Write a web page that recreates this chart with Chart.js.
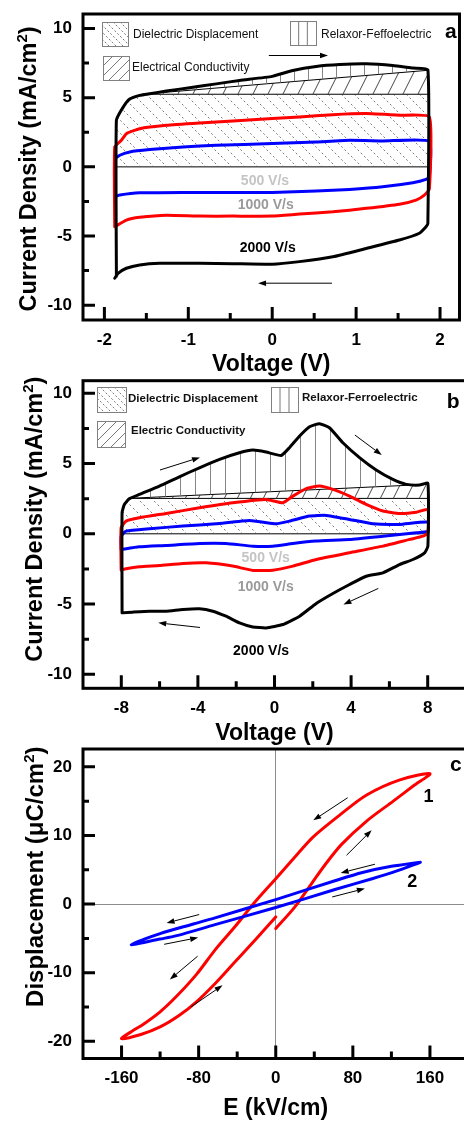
<!DOCTYPE html>
<html>
<head>
<meta charset="utf-8">
<script src="https://cdn.jsdelivr.net/npm/chart.js@4.4.1/dist/chart.umd.min.js"></script>
<style>
  html, body { margin: 0; padding: 0; background: #fff; overflow: hidden; width: 464px; height: 1121px; }
  canvas { position: absolute; left: 0; }
</style>
</head>
<body>
<canvas id="chartA" width="464" height="378" style="top:0px"></canvas>
<canvas id="chartB" width="472" height="372" style="top:375px"></canvas>
<canvas id="chartC" width="472" height="382" style="top:740px"></canvas>
<script>
const FONT = "'Liberation Sans', Arial, Helvetica, sans-serif";
Chart.defaults.font.family = FONT;
Chart.defaults.color = '#000';

// ---------- panel a : current density vs voltage, +/-1.85 V ----------
const aXTicks = [-2, -1, 0, 1, 2];
const aXMinor = [-1.5, -0.5, 0.5, 1.5];
const aYTicks = [-10, -5, 0, 5, 10];
const aYMinor = [-7.5, -2.5, 2.5, 7.5];
const aRates = ['500 V/s', '1000 V/s', '2000 V/s'];

const a2000Up = [[-1.857, -7.9], [-1.857, 3.37], [-1.778, 4.3], [-1.698, 4.9], [-1.579, 5.17], [-1.46, 5.29], [-1.262, 5.48], [-0.984, 5.72], [-0.667, 6.0], [-0.389, 6.25], [0, 6.54], [0.246, 6.97], [0.524, 7.26], [0.802, 7.4], [1.119, 7.45], [1.437, 7.33], [1.675, 7.14], [1.855, 7.02]];
const a2000Down = [[1.855, -4.1], [1.833, -4.33], [1.754, -4.8], [1.516, -5.29], [1.119, -5.9], [0.722, -6.5], [0.325, -6.85], [0, -7.04], [-0.468, -7.0], [-0.865, -6.97], [-1.341, -6.97], [-1.579, -7.09], [-1.738, -7.33], [-1.837, -7.7], [-1.877, -8.05]];
const a1000Up = [[-1.877, -4.33], [-1.877, 1.44], [-1.798, 1.92], [-1.738, 2.4], [-1.579, 2.76], [-1.262, 3.0], [-0.865, 3.17], [-0.468, 3.32], [0, 3.49], [0.325, 3.6], [0.722, 3.77], [1.119, 3.85], [1.516, 3.73], [1.873, 3.6]];
const a1000Down = [[1.873, -1.6], [1.813, -2.04], [1.714, -2.4], [1.516, -2.7], [1.119, -3.0], [0.722, -3.25], [0.325, -3.41], [0, -3.56], [-0.468, -3.56], [-0.865, -3.56], [-1.262, -3.49], [-1.579, -3.65], [-1.738, -3.85], [-1.877, -4.33]];
const a500Up = [[-1.877, -2.16], [-1.877, 0.53], [-1.817, 0.84], [-1.698, 1.08], [-1.46, 1.25], [-1.063, 1.44], [-0.667, 1.56], [0, 1.68], [0.524, 1.8], [0.921, 1.92], [1.317, 1.87], [1.873, 1.85]];
const a500Down = [[1.873, -0.72], [1.833, -0.91], [1.675, -1.15], [1.317, -1.44], [0.921, -1.63], [0.524, -1.75], [0, -1.85], [-0.468, -1.85], [-1.063, -1.85], [-1.579, -1.88], [-1.817, -2.04], [-1.877, -2.16]];
// hatched areas: top of the dielectric box and the conductivity line
const aDielTop = [[-1.857, 3.37], [-1.778, 4.3], [-1.698, 4.9], [-1.55, 5.25], [1.855, 5.25]];
const aCondLine = [[-1.55, 5.25], [1.855, 6.98]];
const aArrows = [[-0.04, 8.05, 0.665, 8.05], [0.713, -8.41, -0.169, -8.41]];

// ---------- panel b : +/-8 V ----------
const bXTicks = [-8, -4, 0, 4, 8];
const bXMinor = [-6, -2, 2, 6];
const bYTicks = [-10, -5, 0, 5, 10];
const bYMinor = [-7.5, -2.5, 2.5, 7.5];

const b2000Up = [[-7.96, -5.63], [-7.96, 1.5], [-7.84, 2.09], [-7.58, 2.49], [-7.06, 2.8], [-6.01, 3.4], [-4.97, 4.06], [-3.92, 4.7], [-2.87, 5.3], [-1.83, 5.77], [-1.13, 5.96], [-0.44, 5.82], [0.35, 5.58], [0.78, 6.13], [1.31, 6.96], [1.83, 7.62], [2.35, 7.84], [2.87, 7.55], [3.57, 6.48], [4.44, 5.42], [5.31, 4.54], [6.18, 3.87], [6.88, 3.52], [7.58, 3.47], [8.01, 3.59]];
const b2000Down = [[8.01, -0.88], [7.84, -1.35], [7.23, -1.83], [6.53, -2.19], [5.66, -2.78], [4.79, -3.02], [3.92, -3.61], [3.05, -4.25], [2.18, -4.96], [1.31, -5.87], [0.44, -6.46], [-0.44, -6.7], [-1.13, -6.63], [-1.83, -6.34], [-2.53, -5.87], [-3.22, -5.51], [-3.92, -5.34], [-4.79, -5.39], [-5.66, -5.51], [-6.53, -5.51], [-7.42, -5.58], [-7.96, -5.63]];
const b1000Up = [[-8.01, -2.54], [-8.01, 0.43], [-7.75, 0.9], [-7.06, 1.14], [-5.66, 1.45], [-3.92, 1.85], [-2.18, 2.21], [-0.44, 2.45], [0.44, 2.21], [0.96, 2.68], [1.66, 3.21], [2.35, 3.4], [3.05, 3.16], [3.92, 2.68], [4.79, 2.09], [5.66, 1.62], [6.53, 1.45], [7.41, 1.54], [8.01, 1.73]];
const b1000Down = [[8.01, 0.07], [7.76, -0.17], [7.06, -0.4], [5.66, -0.88], [3.92, -1.35], [2.18, -1.83], [0.96, -2.3], [-0.09, -2.59], [-1.13, -2.61], [-2.18, -2.3], [-3.57, -2.07], [-4.79, -2.11], [-6.01, -2.26], [-7.06, -2.35], [-7.75, -2.49], [-8.01, -2.59]];
const b500Up = [[-8.01, -1.12], [-8.01, -0.17], [-7.75, 0.19], [-6.53, 0.36], [-4.79, 0.55], [-3.05, 0.71], [-1.31, 0.95], [0.09, 0.71], [0.78, 0.9], [1.83, 1.26], [2.7, 1.31], [3.92, 1.02], [5.14, 0.71], [6.53, 0.67], [8.01, 0.83]];
const b500Down = [[8.01, 0.19], [7.41, 0.07], [5.66, -0.17], [3.92, -0.4], [2.18, -0.52], [0.96, -0.69], [-0.09, -0.88], [-1.13, -0.88], [-2.53, -0.69], [-3.92, -0.69], [-5.66, -0.83], [-7.06, -0.93], [-8.01, -1.12]];
const bDielTop = [[-7.96, 1.5], [-7.84, 2.09], [-7.65, 2.52], [8.01, 2.52]];
const bCondLine = [[-7.65, 2.52], [8.01, 3.52]];
const bArrows = [[-5.98, 4.54, -3.89, 5.44], [4.2, 7.03, 5.6, 5.61], [5.42, -3.89, 3.6, -5.03], [-3.89, -6.67, -6.07, -6.34]];

// ---------- panel c : D-E loops ----------
const cXTicks = [-160, -80, 0, 80, 160];
const cXMinor = [-120, -40, 40, 120];
const cYTicks = [-20, -10, 0, 10, 20];
const cYMinor = [-15, -5, 5, 15];

const c1Start = [[0, -3.57], [19.9, -0.41], [37.2, 3.0], [51, 5.7], [68.3, 8.7], [94.3, 12.1], [121.9, 15.0], [142.6, 17.2], [160, 19.0]];
const c1Down = [[128.8, 18.1], [94.3, 15.9], [66.6, 13.0], [38.9, 9.8], [23.3, 7.4], [0, 3.7], [-21.6, 0.3], [-42.4, -3.3], [-63.1, -6.7], [-82, -10.2], [-102.7, -13.4], [-120, -15.7], [-137.3, -17.5], [-150, -18.6], [-160, -19.6]];
const c1Up = [[-140, -19.0], [-120, -17.9], [-100, -16.2], [-82, -14.2], [-63.1, -11.6], [-42.4, -8.43], [-21.6, -5.27], [0, -1.87]];
const c2Down = [[150, 6.1], [120, 5.5], [90, 4.6], [61.4, 3.4], [0, 0.66], [-63, -2.0], [-85.5, -2.9], [-120, -4.3], [-150, -5.9]];
const c2Up = [[-120, -5.1], [-102.7, -4.6], [-63, -3.0], [0, -0.5], [61.4, 2.12], [100, 3.7], [125, 4.8], [150, 6.1]];
const cArrows = [[74.6, 15.5, 38.9, 12.2], [73.5, 7.12, 99.5, 10.77], [102.9, 5.81, 67.3, 4.54], [58.6, 1.04, 92.5, 2.27],
                 [-79.4, -1.52, -113.3, -2.75], [-115.8, -5.86, -80.5, -4.88], [-81.1, -7.6, -109.9, -11.0], [-88.1, -15.0, -55.2, -11.83]];

// ---------- helpers ----------
const pts = arr => arr.map(([x, y]) => ({ x, y }));

function makePattern(kind, s, color) {
  const c = document.createElement('canvas');
  c.width = s;
  c.height = kind === 'slash' ? 2 * s : kind === 'vert' ? 4 : s;
  const g = c.getContext('2d');
  g.strokeStyle = color;
  g.lineWidth = kind === 'dash' ? 0.8 : 0.9;
  g.beginPath();
  if (kind === 'dash') {
    const d = s * Math.SQRT2 / 8;
    g.setLineDash([d * 0.9, d * 1.1]);
    for (const o of [-s, 0, s]) { g.moveTo(o, 0); g.lineTo(o + s, s); }
  } else if (kind === 'slash') {
    for (const o of [-s, 0, s]) { g.moveTo(o, 2 * s); g.lineTo(o + s, 0); }
  } else {
    g.moveTo(0.5, 0); g.lineTo(0.5, 4);
  }
  g.stroke();
  return g.createPattern(c, 'repeat');
}

function legendHatch(ctx, kind, x, y, w, h) {
  ctx.save();
  ctx.beginPath(); ctx.rect(x, y, w, h); ctx.clip();
  ctx.strokeStyle = '#555'; ctx.lineWidth = 0.8;
  ctx.beginPath();
  if (kind === 'vert') {
    for (let i = 1; i < 3; i++) { ctx.moveTo(x + w * i / 3, y); ctx.lineTo(x + w * i / 3, y + h); }
  } else if (kind === 'slash') {
    for (let o = -h; o < w + h; o += 10) { ctx.moveTo(x + o, y + h); ctx.lineTo(x + o + h, y); }
  } else {
    ctx.setLineDash([2, 2]);
    for (let o = -h; o < w + h; o += 7) { ctx.moveTo(x + o, y); ctx.lineTo(x + o + h, y + h); }
  }
  ctx.stroke();
  ctx.restore();
  ctx.strokeStyle = '#808080'; ctx.lineWidth = 1;
  ctx.strokeRect(Math.round(x) + 0.5, Math.round(y) + 0.5, Math.round(w), Math.round(h));
}

function arrow(ctx, x1, y1, x2, y2) {
  const a = Math.atan2(y2 - y1, x2 - x1), L = 8, W = 2.8;
  const bx = x2 - L * Math.cos(a), by = y2 - L * Math.sin(a);
  ctx.beginPath(); ctx.moveTo(x1, y1); ctx.lineTo(bx, by); ctx.stroke();
  ctx.beginPath(); ctx.moveTo(x2, y2);
  ctx.lineTo(bx + W * Math.sin(a), by - W * Math.cos(a));
  ctx.lineTo(bx - W * Math.sin(a), by + W * Math.cos(a));
  ctx.closePath(); ctx.fill();
}

function loop(parts, color, tension) {
  return { data: pts([].concat(...parts)), borderColor: color, borderWidth: 3, tension, fill: false, order: 1,
           borderCapStyle: 'round', borderJoinStyle: 'round' };
}

function hatchSets(up, dielTop, condLine, pat) {
  const inside = up.filter(([x]) => x > condLine[0][0] && x < condLine[1][0]);
  const level = dielTop[dielTop.length - 1][1];
  const x0 = dielTop[0][0], x1 = dielTop[dielTop.length - 1][0];
  return [
    { data: pts([condLine[0], ...inside, condLine[1]]), borderColor: 'rgba(0,0,0,0)', borderWidth: 1, backgroundColor: pat.vert, fill: '+1', order: 2 },
    { data: pts(condLine), borderColor: '#000', borderWidth: 1, backgroundColor: pat.slash, fill: { value: level }, order: 2 },
    { data: pts(dielTop), borderColor: '#000', borderWidth: 1, backgroundColor: pat.dash, fill: { value: 0 }, order: 2 },
    { data: pts([[x0, 0], [x1, 0]]), borderColor: '#000', borderWidth: 1, fill: false, order: 2 }
  ];
}

// draws frame, inward ticks, y title, legend, notes, arrows
function panelPlugin(p) {
  return {
    id: 'panel',
    afterDatasetsDraw(chart) {
      const { ctx, chartArea: a, scales: { x, y } } = chart;
      ctx.save();

      (p.legend || []).forEach(l => {
        legendHatch(ctx, l.kind, a.left + l.box[0], a.top + l.box[1], l.box[2], l.box[3]);
        ctx.font = p.legendFont; ctx.fillStyle = '#111';
        ctx.textAlign = 'left'; ctx.textBaseline = 'middle';
        ctx.fillText(l.text, a.left + l.at[0], a.top + l.at[1]);
      });

      ctx.strokeStyle = '#000'; ctx.fillStyle = '#000'; ctx.lineWidth = 1;
      p.arrows.forEach(([x1, y1, x2, y2]) =>
        arrow(ctx, x.getPixelForValue(x1), y.getPixelForValue(y1), x.getPixelForValue(x2), y.getPixelForValue(y2)));

      ctx.textAlign = 'center'; ctx.textBaseline = 'middle';
      p.notes.forEach(n => {
        ctx.font = n.font; ctx.fillStyle = n.color;
        ctx.fillText(n.text, x.getPixelForValue(n.x), y.getPixelForValue(n.y));
      });

      ctx.font = 'bold 21px ' + FONT; ctx.fillStyle = '#000';
      ctx.textAlign = 'left'; ctx.textBaseline = 'alphabetic';
      ctx.fillText(p.letter[0], a.left + p.letter[1], a.top + p.letter[2]);

      // frame and inward ticks
      ctx.strokeStyle = '#000'; ctx.lineWidth = 3; ctx.lineCap = 'butt';
      ctx.strokeRect(a.left, a.top, a.right - a.left, a.bottom - a.top);
      ctx.beginPath();
      const xt = (v, len) => { const px = x.getPixelForValue(v); ctx.moveTo(px, a.bottom); ctx.lineTo(px, a.bottom - len); };
      const yt = (v, len) => { const py = y.getPixelForValue(v); ctx.moveTo(a.left, py); ctx.lineTo(a.left + len, py); };
      x.ticks.forEach(t => xt(t.value, 13));
      p.xMinor.forEach(v => xt(v, 7));
      y.ticks.forEach(t => yt(t.value, 12));
      p.yMinor.forEach(v => yt(v, 6));
      ctx.stroke();

      // rotated y title with superscript
      let w = 0;
      p.yTitle.forEach(part => { ctx.font = 'bold ' + part.size + 'px ' + FONT; part.w = ctx.measureText(part.t).width; w += part.w; });
      ctx.translate(p.yTitleAt[0], p.yTitleAt[1]);
      ctx.rotate(-Math.PI / 2);
      ctx.fillStyle = '#000'; ctx.textAlign = 'left'; ctx.textBaseline = 'alphabetic';
      let tx = -w / 2;
      p.yTitle.forEach(part => {
        ctx.font = 'bold ' + part.size + 'px ' + FONT;
        ctx.fillText(part.t, tx, -(part.rise || 0));
        tx += part.w;
      });
      ctx.restore();
    }
  };
}

function buildChart(id, p) {
  const tickFont = { family: FONT, size: 17, weight: 'bold' };
  const grid = () => p.zeroLines
    ? { drawTicks: false, lineWidth: 1, color: c => (c.tick && c.tick.value === 0 ? '#8c8c8c' : 'rgba(0,0,0,0)') }
    : { display: false, drawTicks: false };
  return new Chart(document.getElementById(id), {
    type: 'line',
    data: { datasets: p.datasets },
    options: {
      responsive: false,
      animation: false,
      events: [],
      layout: { padding: { top: p.padTop, right: p.padRight, left: 0, bottom: 0 } },
      elements: { point: { radius: 0 } },
      plugins: { legend: { display: false }, tooltip: { enabled: false } },
      scales: {
        x: {
          type: 'linear', min: p.xRange[0], max: p.xRange[1],
          afterBuildTicks: s => { s.ticks = p.xTicks.map(v => ({ value: v })); },
          afterFit: s => { s.height = p.xAxisH; s.paddingLeft = 0; s.paddingRight = 0; },
          grid: grid(), border: { display: false },
          ticks: { font: tickFont, color: '#000', padding: 10, autoSkip: false, maxRotation: 0 },
          title: { display: true, text: p.xTitle, color: '#000', padding: 0, font: { family: FONT, size: 23, weight: 'bold' } }
        },
        y: {
          type: 'linear', min: p.yRange[0], max: p.yRange[1],
          afterBuildTicks: s => { s.ticks = p.yTicks.map(v => ({ value: v })); },
          afterFit: s => { s.width = 83; s.paddingTop = 0; s.paddingBottom = 0; },
          grid: grid(), border: { display: false },
          ticks: { font: tickFont, color: '#000', padding: 11, autoSkip: false }
        }
      }
    },
    plugins: [panelPlugin(p)]
  });
}

const rateFont = 'bold 14px ' + FONT;
const rateColors = ['#c4c4c4', '#9a9a9a', '#000'];

const patA = { dash: makePattern('dash', 13, '#5a5a5a'), slash: makePattern('slash', 15, '#333'), vert: makePattern('vert', 14, '#777') };
const patB = { dash: makePattern('dash', 14, '#5a5a5a'), slash: makePattern('slash', 13, '#333'), vert: makePattern('vert', 15, '#777') };

buildChart('chartA', {
  xRange: [-2.255, 2.232], yRange: [-11.07, 11.05],
  xTicks: aXTicks, yTicks: aYTicks, xMinor: aXMinor, yMinor: aYMinor,
  padTop: 14, padRight: 4.5, xAxisH: 58,
  xTitle: 'Voltage (V)',
  yTitle: [{ t: 'Current Density (mA/cm', size: 23.5 }, { t: '2', size: 15, rise: 9 }, { t: ')', size: 23.5 }],
  yTitleAt: [36, 169],
  letter: ['a', 362, 24.3],
  legendFont: '12px ' + FONT,
  legend: [
    { kind: 'dash', box: [19, 8, 26, 24], text: 'Dielectric Displacement', at: [50, 20.5] },
    { kind: 'vert', box: [207, 7, 26, 24], text: 'Relaxor-Feffoelectric', at: [238, 21] },
    { kind: 'slash', box: [20, 42, 26, 24], text: 'Electrical Conductivity', at: [49, 54] }
  ],
  notes: [
    { text: aRates[0], x: -0.086, y: -1.03, color: rateColors[0], font: rateFont },
    { text: aRates[1], x: -0.077, y: -2.76, color: rateColors[1], font: rateFont },
    { text: aRates[2], x: -0.054, y: -5.9, color: rateColors[2], font: rateFont }
  ],
  arrows: aArrows,
  datasets: [
    loop([a2000Up, a2000Down], '#000', 0.15),
    loop([a1000Up, a1000Down], '#ff0000', 0.15),
    loop([a500Up, a500Down], '#0000ff', 0.15),
    ...hatchSets(a2000Up, aDielTop, aCondLine, patA)
  ]
});

buildChart('chartB', {
  xRange: [-10, 10], yRange: [-11, 10.9],
  xTicks: bXTicks, yTicks: bYTicks, xMinor: bXMinor, yMinor: bYMinor,
  padTop: 5.7, padRight: 6, xAxisH: 58.7,
  xTitle: 'Voltage (V)',
  yTitle: [{ t: 'Current Density (mA/cm', size: 23.5 }, { t: '2', size: 15, rise: 9 }, { t: ')', size: 23.5 }],
  yTitleAt: [41.7, 144.2],
  letter: ['b', 363.7, 27.3],
  legendFont: 'bold 11.5px ' + FONT,
  legend: [
    { kind: 'dash', box: [14, 6.3, 29, 25], text: 'Dielectric Displacement', at: [45, 18.3] },
    { kind: 'vert', box: [188, 6.3, 27, 25], text: 'Relaxor-Ferroelectric', at: [219, 17.3] },
    { kind: 'slash', box: [14, 40.3, 28, 26], text: 'Electric Conductivity', at: [48, 50] }
  ],
  notes: [
    { text: aRates[0], x: -0.46, y: -1.75, color: rateColors[0], font: rateFont },
    { text: aRates[1], x: -0.46, y: -3.82, color: rateColors[1], font: rateFont },
    { text: aRates[2], x: -0.7, y: -8.34, color: rateColors[2], font: rateFont }
  ],
  arrows: bArrows,
  datasets: [
    loop([b2000Up, b2000Down], '#000', 0.15),
    loop([b1000Up, b1000Down], '#ff0000', 0.15),
    loop([b500Up, b500Down], '#0000ff', 0.15),
    ...hatchSets(b2000Up, bDielTop, bCondLine, patB)
  ]
});

buildChart('chartC', {
  xRange: [-200, 200], yRange: [-22.5, 22.6],
  xTicks: cXTicks, yTicks: cYTicks, xMinor: cXMinor, yMinor: cYMinor,
  padTop: 9, padRight: 3.5, xAxisH: 63.5, zeroLines: true,
  xTitle: 'E (kV/cm)',
  yTitle: [{ t: 'Displacement (\u03bcC/cm', size: 24 }, { t: '2', size: 15, rise: 9 }, { t: ')', size: 24 }],
  yTitleAt: [43.3, 136.7],
  letter: ['c', 367, 21.7],
  notes: [
    { text: '1', x: 158.6, y: 15.6, color: '#000', font: 'bold 18px ' + FONT },
    { text: '2', x: 141.6, y: 3.16, color: '#000', font: 'bold 18px ' + FONT }
  ],
  arrows: cArrows,
  datasets: [
    loop([c2Down, c2Up], '#0000ff', 0.3),
    loop([c1Start, c1Down, c1Up], '#ff0000', 0.3)
  ]
});
</script>
</body>
</html>
